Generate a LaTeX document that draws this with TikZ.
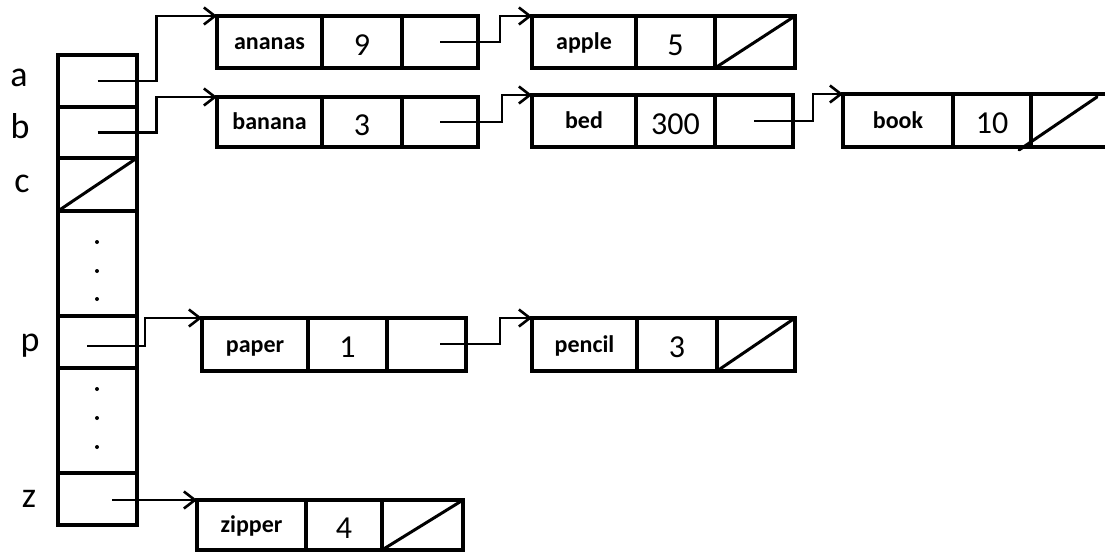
\documentclass[tikz,border=0pt]{standalone}
\usepackage{fontspec}
\setmainfont{Carlito}
\usetikzlibrary{arrows.meta}
\newcommand\mklist[9]{%
  \node[cell,minimum width=#5pt,minimum height=#4pt,nm] (#1N) at (#2,#3) {#8};
  \node[cell,minimum width=#6pt,minimum height=#4pt,nv] (#1V) at (#1N.north east) {#9};
  \node[cell,minimum width=#7pt,minimum height=#4pt] (#1P) at (#1V.north east) {};}
\begin{document}
\begin{tikzpicture}[x=1pt,y=-1pt,
  cell/.style={draw,line width=4pt,inner sep=0pt,outer sep=0pt,anchor=north west},
  colcell/.style={cell,minimum width=79pt},
  nm/.style={font=\bfseries\fontsize{24}{28}\selectfont,text height=15pt,text depth=0pt},
  nv/.style={font=\fontsize{32}{38}\selectfont,text height=26pt,text depth=0pt},
  lab/.style={font=\fontsize{36}{42}\selectfont,inner sep=0pt},
  ptr/.style={line width=2.6pt,-{Straight Barb[length=11pt,width=17pt]}},
  nil/.style={line width=3pt,line cap=round},
  dot/.style={fill=black}]
\useasboundingbox (0,0) rectangle (1105,552);
% hash table column
\node[colcell,minimum height=52pt] (colA) at (58,55) {};
\node[colcell,minimum height=51pt] (colB) at (colA.south west) {};
\node[colcell,minimum height=53pt] (colC) at (colB.south west) {};
\node[colcell,minimum height=105pt] (colD1) at (colC.south west) {};
\node[colcell,minimum height=52pt] (colP) at (colD1.south west) {};
\node[colcell,minimum height=105pt] (colD2) at (colP.south west) {};
\node[colcell,minimum height=52pt] (colZ) at (colD2.south west) {};
% labels
\node[lab] (la) at (19,78) {a};
\node[lab] (lb) at (20,126) {b};
\node[lab] (lc) at (22,184) {c};
\node[lab] (lp) at (30,346) {p};
\node[lab] (lz) at (29,499) {z};
% dots
\foreach \yy in {242,271,299,389,418,447} \fill[dot] (97,\yy) circle (2pt);
% nil in c
\draw[nil] (colC.south west) -- (colC.north east);
% lists
\mklist{ananas}{217}{16}{52}{105}{80}{76}{ananas}{9}
\mklist{apple}{532}{16}{52}{104}{79}{80}{apple}{5}
\mklist{banana}{217}{97}{50}{105}{80}{76}{banana}{3}
\mklist{bed}{532}{95}{52}{104}{79}{78}{bed}{300}
\mklist{book}{843}{94}{53}{110}{78}{80}{book}{10}
\mklist{paper}{202}{318}{53}{106}{79}{79}{paper}{1}
\mklist{pencil}{532}{318}{53}{105}{80}{78}{pencil}{3}
\mklist{zipper}{197}{500}{50}{109}{76}{81}{zipper}{4}
% nil pointers
\draw[nil] (appleP.south west) -- (appleP.north east);
\draw[nil] (pencilP.south west) -- (pencilP.north east);
\draw[nil] (zipperP.south west) -- (zipperP.north east);
\draw[nil] (bookP.south west) ++(-12,3) -- ++(78,-53);
% pointers
\coordinate (pS) at (87,346);
\coordinate (zS) at (112,500);
\coordinate (ppS) at (440,344);
\draw[ptr] (colA.center) -- ++(59,0) |- (ananasN.north west);
\draw[ptr] (colB.center) -- ++(59,0) |- (bananaN.north west);
\draw[ptr] (pS) -- ++(58,0) |- (paperN.north west);
\draw[ptr] (zS) -- (zipperN.north west);
\draw[ptr] (ananasP.center) -- ++(60,0) |- (appleN.north west);
\draw[ptr] (bananaP.center) -- ++(62,0) |- (bedN.north west);
\draw[ptr] (bedP.center) -- ++(59,0) |- (bookN.north west);
\draw[ptr] (ppS) -- ++(60,0) |- (pencilN.north west);
\end{tikzpicture}
\end{document}
